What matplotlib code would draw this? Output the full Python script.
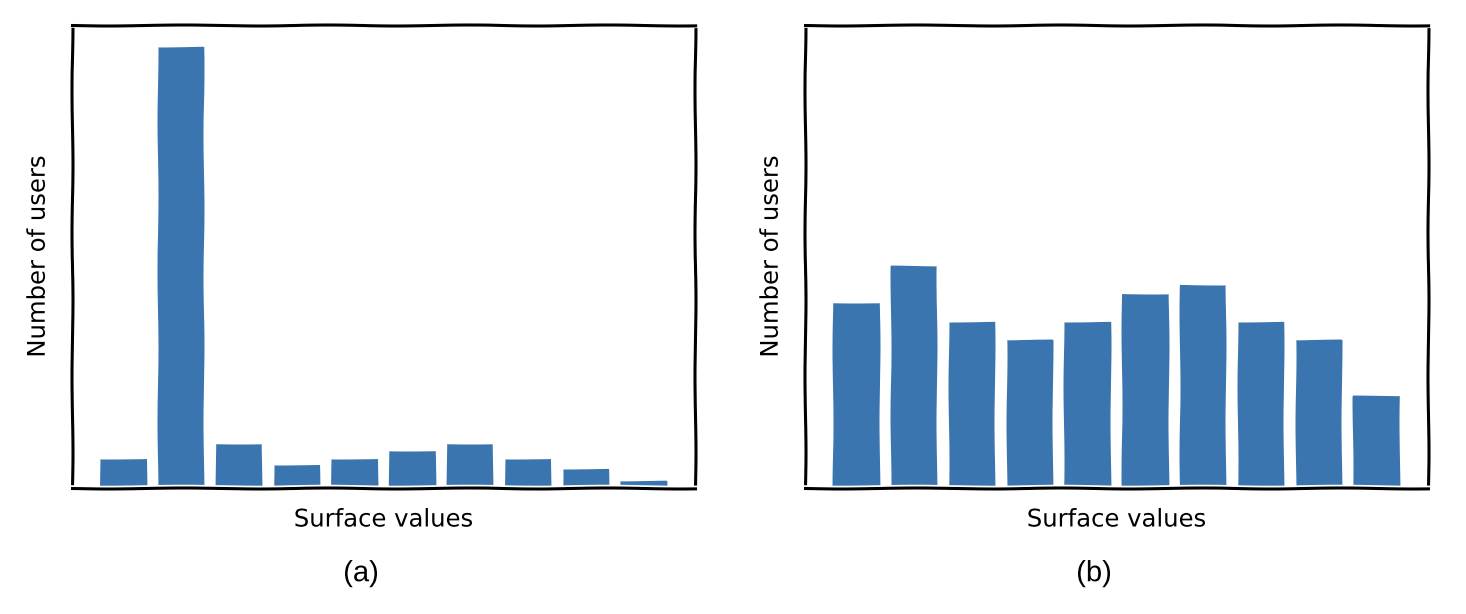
import numpy as np
import matplotlib
matplotlib.use("Agg")
import matplotlib.pyplot as plt

# bar heights (shared y scale)
bins = np.arange(10)
users_a = [1.58, 23.85, 2.39, 1.23, 1.58, 2.0, 2.39, 1.58, 1.01, 0.38]
users_b = [10.0, 12.0, 9.0, 8.0, 9.0, 10.5, 11.0, 9.0, 8.0, 5.0]
panel_tags = ["(a)", "(b)"]
bar_color = "#3b75af"

with plt.xkcd(scale=0.5, length=160, randomness=2):
    plt.rcParams['font.family'] = ['DejaVu Sans']
    fig = plt.figure(figsize=(14.66, 6.14), dpi=100)
    ax1 = fig.add_axes([0.0491, 0.2052, 0.425, 0.754])
    ax2 = fig.add_axes([0.5491, 0.2052, 0.425, 0.754], sharey=ax1)

    for ax, vals, tag in zip([ax1, ax2], [users_a, users_b], panel_tags):
        ax.bar(bins, vals, width=0.8, color=bar_color)
        ax.set_xticks([])
        ax.set_yticks([])
        ax.set_xlabel("Surface values", fontsize=17.5, va="center")
        ax.set_ylabel("Number of users", fontsize=17.5, va="center")
        ax.xaxis.set_label_coords(0.5, -0.068)
        ax.yaxis.set_label_coords(-0.055, 0.5)
        for s in ax.spines.values():
            s.set_linewidth(2.2)
        ax.text(0.464, -0.184, tag, transform=ax.transAxes, ha="center", va="center",
                fontsize=21, family="Liberation Sans")

    fig.savefig("out.png", dpi=100)
